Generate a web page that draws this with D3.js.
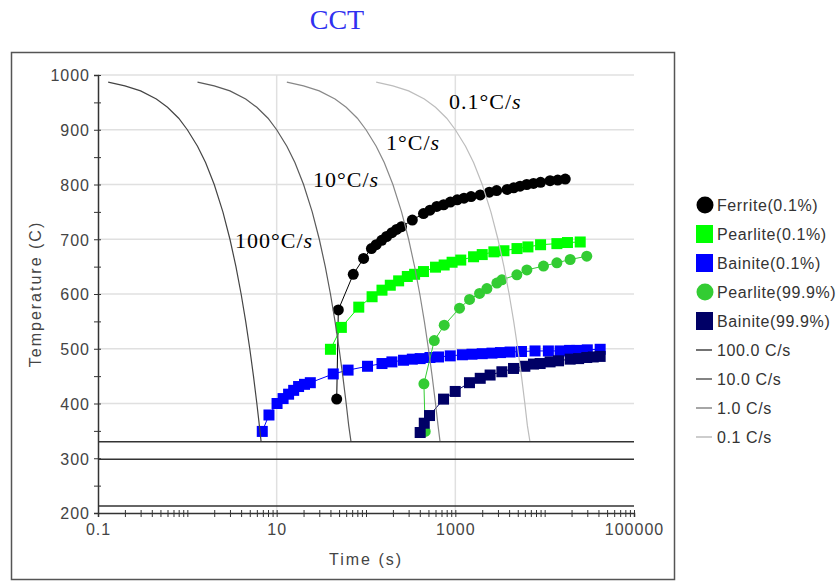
<!DOCTYPE html>
<html>
<head>
<meta charset="utf-8">
<script src="https://cdn.jsdelivr.net/npm/d3@7"></script>
<style>
  body { margin: 0; background: #fff; }
  svg { display: block; }
</style>
</head>
<body>
<div id="chart"></div>
<script>
// cooling curves (time in s, temperature in C)
var coolTemp = [987, 980, 971, 956, 941, 921, 900, 870, 840, 800, 750, 700, 650, 600, 550, 500, 450, 400, 360, 330];
var cool100Time = [0.13, 0.2, 0.3, 0.45, 0.6, 0.8, 1.0, 1.3, 1.6, 2.0, 2.5, 3.0, 3.5, 4.0, 4.5, 5.0, 5.5, 6.0, 6.4, 6.7];
var cool10Time = [1.3, 2, 3, 4.5, 6, 8, 10, 13, 16, 20, 25, 30, 35, 40, 45, 50, 55, 60, 64, 68];
var cool1Time = [13, 20, 30, 45, 60, 80, 100, 130, 160, 200, 250, 300, 350, 400, 450, 500, 550, 600, 640, 675];
var cool01Time = [130, 200, 300, 450, 600, 800, 1000, 1300, 1600, 2000, 2500, 3000, 3500, 4000, 4500, 5000, 5500, 6000, 6400, 6850];

// transformation points
var ferriteTime = [47, 49, 72, 94, 115, 130, 150, 170, 195, 220, 250, 330, 440, 520, 620, 740, 880, 1050, 1250, 1500, 1900, 2400, 2900, 3800, 4500, 5300, 6300, 7500, 9000, 11500, 14000, 17000];
var ferriteTemp = [408, 571, 636, 665, 683, 690, 698, 705, 712, 718, 723, 735, 747, 753, 760, 763, 768, 772, 775, 778, 781, 786, 789, 791, 794, 797, 800, 802, 804, 807, 808, 810];

var pearlite01Time = [40, 53, 83, 117, 151, 187, 232, 290, 350, 440, 600, 750, 920, 1150, 1600, 2000, 2700, 3500, 4900, 6500, 9000, 13700, 18000, 25000];
var pearlite01Temp = [499, 539, 576, 595, 607, 616, 624, 632, 636, 641, 649, 653, 658, 662, 668, 672, 677, 679, 683, 686, 690, 692, 694, 695];

var bainite01Time = [6.9, 8.2, 10.1, 11.8, 13.6, 15.5, 17.6, 20.5, 23.8, 43, 63, 104, 151, 195, 263, 330, 404, 520, 648, 877, 1200, 1535, 2000, 2570, 3200, 4100, 5500, 7800, 11000, 14900, 19000, 22900, 30000, 41800];
var bainite01Temp = [349, 379, 400, 409, 417, 424, 431, 435, 438, 454, 461, 468, 473, 476, 479, 481, 482, 484, 485, 487, 489, 490, 491, 492, 493, 494, 495, 496, 496, 496, 497, 497, 498, 499];

var pearlite999Time = [460, 445, 581, 751, 1114, 1442, 1866, 2256, 2918, 3320, 4885, 6320, 9700, 13700, 19300, 29600];
var pearlite999Temp = [349, 436, 515, 543, 574, 590, 601, 610, 620, 626, 635, 644, 651, 657, 663, 669];

var bainite999Time = [404, 449, 514, 738, 997, 1440, 1900, 2450, 3320, 4480, 6000, 7500, 8900, 11500, 14300, 19300, 24000, 29600, 35000, 41800];
var bainite999Temp = [347, 364, 378, 408, 422, 438, 446, 452, 458, 464, 468, 472, 473, 476, 478, 481, 482, 484, 485, 486];

// horizontal reference lines
var refTemps = [330, 298, 213];

var xTickLabels = [0.1, 10, 1000, 100000];
var yTickLabels = [200, 300, 400, 500, 600, 700, 800, 900, 1000];

var W = 839, H = 581;
var svg = d3.select('#chart').append('svg').attr('width', W).attr('height', H);

var x = d3.scaleLog().domain([0.1, 100000]).range([98, 634]);
var y = d3.scaleLinear().domain([200, 1000]).range([513, 75]);

var sans = '"Liberation Sans", Arial, sans-serif';
var serif = '"Liberation Serif", "Times New Roman", serif';

// title
svg.append('text')
  .attr('x', 337).attr('y', 29)
  .attr('text-anchor', 'middle')
  .attr('font-family', serif)
  .attr('font-size', 28)
  .attr('fill', '#3030f0')
  .text('CCT');

// frame
svg.append('rect')
  .attr('x', 11.5).attr('y', 52.5)
  .attr('width', 663).attr('height', 527)
  .attr('fill', 'none')
  .attr('stroke', '#555')
  .attr('stroke-width', 1.5);

// grid
var grid = svg.append('g');
yTickLabels.filter(function (d) { return d >= 400; }).forEach(function (d) {
  grid.append('line')
    .attr('x1', x(0.1)).attr('x2', x(100000))
    .attr('y1', y(d)).attr('y2', y(d))
    .attr('stroke', '#e0e0e0').attr('stroke-width', 1.5);
});
[10, 1000].forEach(function (d) {
  grid.append('line')
    .attr('x1', x(d)).attr('x2', x(d))
    .attr('y1', y(1000)).attr('y2', y(200))
    .attr('stroke', '#e0e0e0').attr('stroke-width', 1.5);
});

// axes
var xAxis = d3.axisBottom(x)
  .tickValues(x.ticks())
  .tickSize(4)
  .tickFormat(function (d) { return xTickLabels.indexOf(d) >= 0 ? String(d) : ''; });
var gx = svg.append('g').attr('transform', 'translate(0,' + y(200) + ')').call(xAxis);
gx.select('.domain').attr('stroke', '#333').attr('stroke-width', 1.5);
gx.selectAll('.tick line').attr('y1', -3).attr('stroke', '#333');
gx.selectAll('.tick text')
  .attr('y', 22)
  .attr('dy', 0)
  .attr('fill', '#444')
  .attr('font-family', sans)
  .attr('font-size', 16)
  .attr('letter-spacing', 1);

var yAxis = d3.axisLeft(y)
  .tickValues(d3.range(200, 1001, 50))
  .tickSize(4)
  .tickFormat(function (d) { return yTickLabels.indexOf(d) >= 0 ? String(d) : ''; });
var gy = svg.append('g').attr('transform', 'translate(' + x(0.1) + ',0)').call(yAxis);
gy.select('.domain').attr('stroke', '#333').attr('stroke-width', 1.5);
gy.selectAll('.tick line').attr('x2', 3).attr('x1', -4).attr('stroke', '#333');
gy.selectAll('.tick text')
  .attr('x', -8)
  .attr('dy', '0.36em')
  .attr('fill', '#444')
  .attr('font-family', sans)
  .attr('font-size', 16)
  .attr('letter-spacing', 1);
gx.attr('font-family', null); gy.attr('font-family', null);

// axis titles
svg.append('text')
  .attr('x', 366).attr('y', 565)
  .attr('text-anchor', 'middle')
  .attr('font-family', sans).attr('font-size', 16)
  .attr('letter-spacing', 2)
  .attr('fill', '#444')
  .text('Time (s)');
svg.append('text')
  .attr('transform', 'translate(41,294) rotate(-90)')
  .attr('text-anchor', 'middle')
  .attr('font-family', sans).attr('font-size', 16)
  .attr('letter-spacing', 2)
  .attr('fill', '#444')
  .text('Temperature (C)');

// transformation series
var series = [
  { name: 'Ferrite(0.1%)', t: ferriteTime, v: ferriteTemp, color: '#000000', shape: 'circle' },
  { name: 'Pearlite(0.1%)', t: pearlite01Time, v: pearlite01Temp, color: '#00ff00', shape: 'square' },
  { name: 'Bainite(0.1%)', t: bainite01Time, v: bainite01Temp, color: '#0000ff', shape: 'square' },
  { name: 'Pearlite(99.9%)', t: pearlite999Time, v: pearlite999Temp, color: '#33cc33', shape: 'circle' },
  { name: 'Bainite(99.9%)', t: bainite999Time, v: bainite999Temp, color: '#000066', shape: 'square' }
];

var line = d3.line().x(function (d) { return x(d[0]); }).y(function (d) { return y(d[1]); });

series.forEach(function (s) {
  var pts = d3.zip(s.t, s.v);
  var g = svg.append('g');
  g.append('path')
    .attr('d', line(pts))
    .attr('fill', 'none')
    .attr('stroke', s.color)
    .attr('stroke-width', 1);
  if (s.shape === 'circle') {
    g.selectAll('circle').data(pts).enter().append('circle')
      .attr('cx', function (d) { return x(d[0]); })
      .attr('cy', function (d) { return y(d[1]); })
      .attr('r', 5.5)
      .attr('fill', s.color);
  } else {
    g.selectAll('rect').data(pts).enter().append('rect')
      .attr('x', function (d) { return x(d[0]) - 5.5; })
      .attr('y', function (d) { return y(d[1]) - 5.5; })
      .attr('width', 11).attr('height', 11)
      .attr('fill', s.color);
  }
});

// cooling curves
var cooling = [
  { name: '100.0 C/s', t: cool100Time, color: '#444' },
  { name: '10.0 C/s', t: cool10Time, color: '#5a5a5a' },
  { name: '1.0 C/s', t: cool1Time, color: '#888' },
  { name: '0.1 C/s', t: cool01Time, color: '#bdbdbd' }
];
cooling.forEach(function (c) {
  svg.append('path')
    .attr('d', line(d3.zip(c.t, coolTemp)))
    .attr('fill', 'none')
    .attr('stroke', c.color)
    .attr('stroke-width', 1.2);
});

// reference lines
refTemps.forEach(function (d) {
  svg.append('line')
    .attr('x1', x(0.1)).attr('x2', x(100000))
    .attr('y1', y(d)).attr('y2', y(d))
    .attr('stroke', '#333').attr('stroke-width', 1.5);
});

// rate annotations
var notes = [
  { label: '100°C/', x: 235, y: 248 },
  { label: '10°C/', x: 313, y: 187 },
  { label: '1°C/', x: 386, y: 150 },
  { label: '0.1°C/', x: 449, y: 109 }
];
notes.forEach(function (n) {
  var t = svg.append('text')
    .attr('x', n.x).attr('y', n.y)
    .attr('font-family', serif)
    .attr('font-size', 22)
    .attr('letter-spacing', 1)
    .attr('fill', '#000');
  t.append('tspan').text(n.label);
  t.append('tspan').attr('font-style', 'italic').text('s');
});

// legend
var lg = svg.append('g');
var rowY = 205, rowH = 29;
series.forEach(function (s, i) {
  var cy = rowY + i * rowH;
  if (s.shape === 'circle') {
    lg.append('circle').attr('cx', 705).attr('cy', cy).attr('r', 8.5).attr('fill', s.color);
  } else {
    lg.append('rect').attr('x', 696).attr('y', cy - 9).attr('width', 17).attr('height', 18).attr('fill', s.color);
  }
  lg.append('text')
    .attr('x', 717).attr('y', cy).attr('dy', '0.36em')
    .attr('font-family', sans).attr('font-size', 16)
    .attr('letter-spacing', 0.6)
    .attr('fill', '#333')
    .text(s.name);
});
cooling.forEach(function (c, i) {
  var cy = rowY + (series.length + i) * rowH;
  lg.append('line')
    .attr('x1', 696).attr('x2', 712)
    .attr('y1', cy).attr('y2', cy)
    .attr('stroke', c.color).attr('stroke-width', 1.5);
  lg.append('text')
    .attr('x', 717).attr('y', cy).attr('dy', '0.36em')
    .attr('font-family', sans).attr('font-size', 16)
    .attr('letter-spacing', 0.6)
    .attr('fill', '#333')
    .text(c.name);
});
</script>
</body>
</html>
